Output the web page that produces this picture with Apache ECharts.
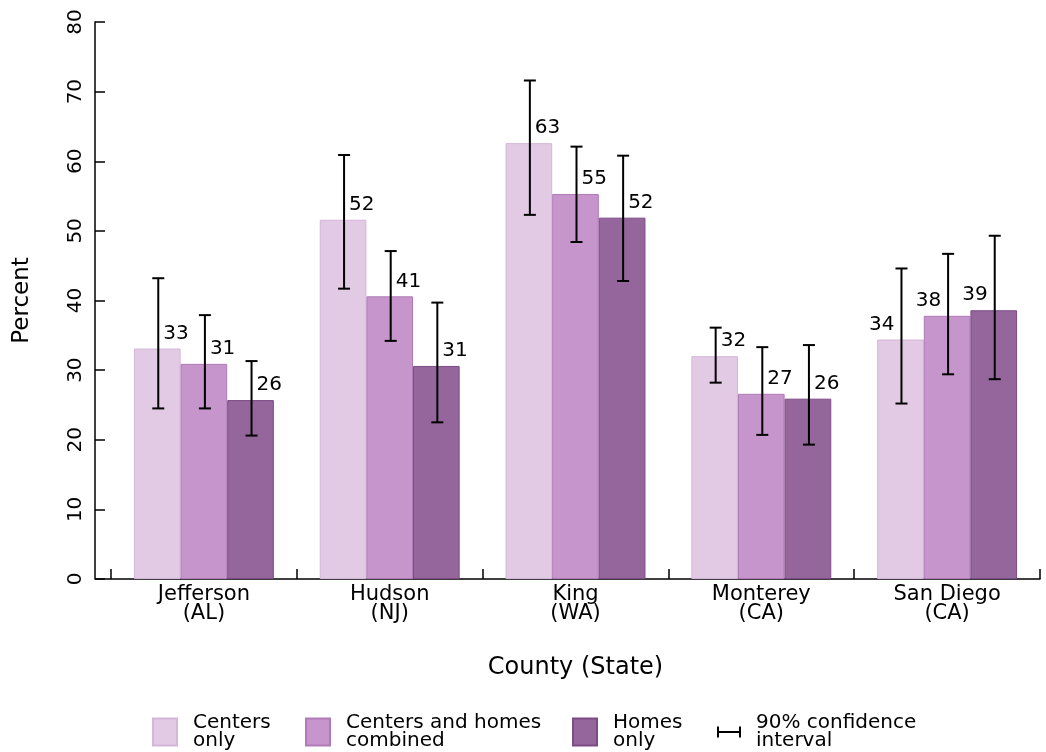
<!DOCTYPE html>
<html>
<head>
<meta charset="utf-8">
<script src="https://cdn.jsdelivr.net/npm/echarts@6/dist/echarts.min.js"></script>
<style>html,body{margin:0;padding:0;background:#fff}#c{width:1046px;height:752px}</style>
</head>
<body>
<div id="c"></div>
<script>
const categories = ['Jefferson\n(AL)', 'Hudson\n(NJ)', 'King\n(WA)', 'Monterey\n(CA)', 'San Diego\n(CA)'];
const seriesNames = ['Centers\nonly', 'Centers and homes\ncombined', 'Homes\nonly'];
const ciName = '90% confidence\ninterval';

const centersOnly = [33.1, 51.6, 62.6, 32.0, 34.4];
const combined    = [30.9, 40.6, 55.3, 26.6, 37.8];
const homesOnly   = [25.7, 30.6, 51.9, 25.9, 38.6];

const centersOnlyLow  = [24.5, 41.7, 52.3, 28.2, 25.2];
const centersOnlyHigh = [43.2, 60.9, 71.6, 36.1, 44.6];
const combinedLow     = [24.5, 34.2, 48.4, 20.7, 29.4];
const combinedHigh    = [37.9, 47.1, 62.1, 33.3, 46.7];
const homesOnlyLow    = [20.6, 22.5, 42.8, 19.3, 28.7];
const homesOnlyHigh   = [31.3, 39.7, 60.8, 33.6, 49.3];

// which side of the error bar the value label sits on, per county
const labelSide = ['right', 'right', 'right', 'right', 'left'];

const FONT = 'DejaVu Sans';
const GRID_LEFT = 111, Y_OFFSET = 16;
const BAR_FRAC = 0.251;

const colors = ['#e2cae4', '#c595cb', '#94669b'];
const borders = ['#d4b6d8', '#b07ab8', '#7d4b87'];

const values = [centersOnly, combined, homesOnly];
const lows = [centersOnlyLow, combinedLow, homesOnlyLow];
const highs = [centersOnlyHigh, combinedHigh, homesOnlyHigh];

const chart = echarts.init(document.getElementById('c'), null, {renderer: 'canvas'});

const barSeries = values.map((arr, s) => ({
  type: 'bar',
  name: seriesNames[s],
  barWidth: (BAR_FRAC * 100) + '%',
  barGap: '0%',
  itemStyle: {color: colors[s], borderColor: borders[s], borderWidth: 1},
  label: {
    show: true, position: 'top', distance: 5,
    fontFamily: FONT, fontSize: 20, color: '#000',
    formatter: p => Math.round(p.value)
  },
  data: arr.map((v, i) => ({
    value: v,
    label: labelSide[i] === 'left'
      ? {align: 'right', offset: [-6, 0]}
      : {align: 'left', offset: [6, 0]}
  })),
  z: 2
}));

const errSeries = values.map((arr, s) => ({
  type: 'custom',
  name: ciName,
  itemStyle: {color: '#000'},
  renderItem: (params, api) => {
    const xi = api.value(0), lo = api.value(1), hi = api.value(2);
    const band = api.size([1, 0])[0];
    const cx = api.coord([xi, 0])[0] + (s - 1) * BAR_FRAC * band + 1;
    const yHi = api.coord([xi, hi])[1], yLo = api.coord([xi, lo])[1];
    const cap = 6;
    const st = {stroke: '#000', lineWidth: 2};
    return {type: 'group', children: [
      {type: 'line', shape: {x1: cx, y1: yHi, x2: cx, y2: yLo}, style: st},
      {type: 'line', shape: {x1: cx - cap, y1: yHi, x2: cx + cap, y2: yHi}, style: st},
      {type: 'line', shape: {x1: cx - cap, y1: yLo, x2: cx + cap, y2: yLo}, style: st}
    ]};
  },
  data: arr.map((v, i) => [i, lows[s][i], highs[s][i]]),
  z: 3
}));

const legendText = {fontFamily: FONT, fontSize: 20, color: '#000', lineHeight: 18, padding: [0, 0, 0, 11]};
const legendBase = {orient: 'horizontal', top: 713, padding: 0, itemWidth: 24, itemHeight: 27, icon: 'rect', selectedMode: false, textStyle: legendText};

const option = {
  animation: false,
  backgroundColor: '#fff',
  grid: {left: GRID_LEFT, right: 6, top: 22, bottom: 173, containLabel: false},
  xAxis: {
    type: 'category',
    data: categories,
    name: 'County (State)',
    nameLocation: 'middle',
    nameGap: 77,
    nameTextStyle: {fontFamily: FONT, fontSize: 24, color: '#000'},
    axisLine: {show: true, lineStyle: {color: '#000', width: 1.5}},
    axisTick: {show: true, inside: true, length: 10, alignWithLabel: false, lineStyle: {color: '#000', width: 1.5}},
    axisLabel: {fontFamily: FONT, fontSize: 21, color: '#000', lineHeight: 19, margin: 6, interval: 0},
    splitLine: {show: false}
  },
  yAxis: {
    type: 'value',
    min: 0, max: 80, interval: 10,
    offset: Y_OFFSET,
    name: 'Percent',
    nameLocation: 'middle',
    nameGap: 61,
    nameTextStyle: {fontFamily: FONT, fontSize: 23, color: '#000'},
    axisLine: {show: true, lineStyle: {color: '#000', width: 1.5}},
    axisTick: {show: true, inside: true, length: 10, lineStyle: {color: '#000', width: 1.5}},
    axisLabel: {rotate: 90, fontFamily: FONT, fontSize: 20, color: '#000', margin: 9},
    splitLine: {show: false}
  },
  legend: [
    Object.assign({}, legendBase, {left: 152, data: [seriesNames[0]]}),
    Object.assign({}, legendBase, {left: 305, data: [seriesNames[1]]}),
    Object.assign({}, legendBase, {left: 572, data: [seriesNames[2]]}),
    Object.assign({}, legendBase, {left: 717, itemHeight: 11, textStyle: Object.assign({}, legendText, {padding: [0, 0, 0, 10]}),
      data: [{name: ciName, icon: 'path://M0,0h2v11h-2z M2,4.5h20v2h-20z M22,0h2v11h-2z', itemStyle: {color: '#000', borderWidth: 0}}]})
  ],
  series: barSeries.concat(errSeries)
};

chart.setOption(option);

// extend the x-axis baseline left to meet the offset y axis
const y0 = chart.convertToPixel({yAxisIndex: 0}, 0);
chart.setOption({graphic: [{type: 'line', shape: {x1: GRID_LEFT - Y_OFFSET, y1: y0, x2: GRID_LEFT, y2: y0}, style: {stroke: '#000', lineWidth: 1.5}, z: 10}]});
</script>
</body>
</html>
